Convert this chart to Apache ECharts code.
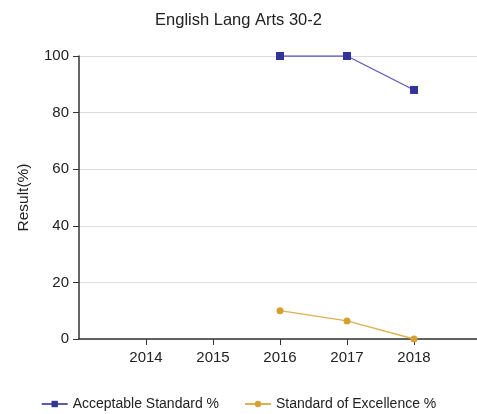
<!DOCTYPE html>
<html>
<head>
<meta charset="utf-8">
<script src="https://cdn.jsdelivr.net/npm/echarts@6/dist/echarts.min.js"></script>
<style>
  html, body { margin: 0; padding: 0; background: #fff; }
  #chart { width: 477px; height: 414px; }
</style>
</head>
<body>
<div id="chart"></div>
<script>
// School years and results
const years = [2014, 2015, 2016, 2017, 2018];
const acceptable = [null, null, 100, 100, 88];
const excellence = [null, null, 10, 6.4, 0];
const yTicks = [0, 20, 40, 60, 80, 100];

const chart = echarts.init(document.getElementById('chart'));
const font = 'Liberation Sans, Arial, sans-serif';
const pairs = function (vals) { return years.map(function (y, i) { return [y, vals[i]]; }); };

chart.setOption({
  animation: false,
  title: {
    text: 'English Lang Arts 30-2',
    left: 'center',
    top: 7,
    textStyle: { fontFamily: font, fontSize: 16.5, fontWeight: 'normal', color: '#222' }
  },
  legend: {
    bottom: -2,
    left: 'center',
    itemWidth: 26,
    itemHeight: 8,
    itemGap: 25,
    textStyle: { fontFamily: font, fontSize: 14, color: '#222' },
    data: ['Acceptable Standard %', 'Standard of Excellence %']
  },
  grid: { left: 79, right: -3, top: 56, bottom: 75 },
  xAxis: {
    type: 'value',
    // one empty year slot before the first labelled year; the axis runs to the right edge
    min: years[0] - 1,
    max: years[years.length - 1] + 0.94,
    interval: 1,
    axisLine: { lineStyle: { color: '#333', width: 1.5 } },
    axisTick: { length: 6, lineStyle: { color: '#333' }, customValues: years },
    axisLabel: {
      fontFamily: font, fontSize: 15, color: '#222', margin: 11,
      customValues: years,
      formatter: function (v) { return String(v); }
    },
    splitLine: { show: false }
  },
  yAxis: {
    type: 'value',
    min: yTicks[0],
    max: yTicks[yTicks.length - 1],
    interval: 20,
    name: 'Result(%)',
    nameLocation: 'middle',
    nameGap: 47,
    nameRotate: 90,
    nameTextStyle: { fontFamily: font, fontSize: 15.5, color: '#222' },
    axisLine: { show: true, lineStyle: { color: '#333', width: 1.5 } },
    axisTick: { show: true, length: 6, lineStyle: { color: '#333' } },
    axisLabel: { fontFamily: font, fontSize: 15, color: '#222', margin: 10 },
    splitLine: { lineStyle: { color: '#dddddd' } }
  },
  series: [
    {
      name: 'Acceptable Standard %',
      type: 'line',
      data: pairs(acceptable),
      symbol: 'rect',
      symbolSize: 8,
      itemStyle: { color: '#33339a' },
      lineStyle: { color: '#5a5ab8', width: 1.3 }
    },
    {
      name: 'Standard of Excellence %',
      type: 'line',
      data: pairs(excellence),
      symbol: 'circle',
      symbolSize: 7,
      itemStyle: { color: '#d4a032' },
      lineStyle: { color: '#ddb050', width: 1.3 }
    }
  ]
});
</script>
</body>
</html>
